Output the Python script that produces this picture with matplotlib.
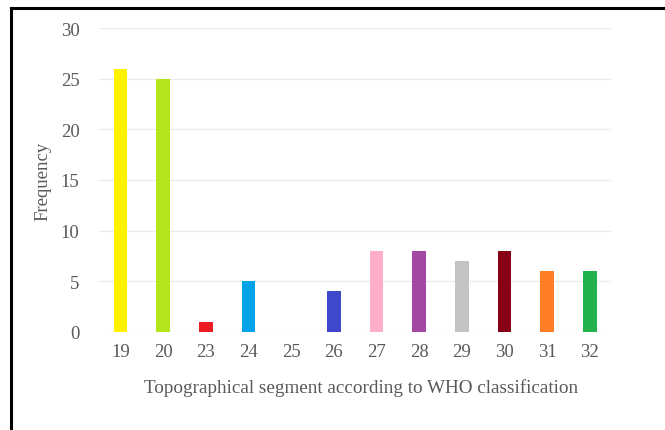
import matplotlib
matplotlib.use("Agg")
import matplotlib.pyplot as plt
from matplotlib.lines import Line2D

categories = ["19", "20", "23", "24", "25", "26", "27", "28", "29", "30", "31", "32"]
values = [26, 25, 1, 5, 0, 4, 8, 8, 7, 8, 6, 6]
colors = ["#FFF200", "#B5E61D", "#ED1C24", "#00A2E8", "#C3C3C3", "#3F48CC",
          "#FFAEC9", "#A349A4", "#C3C3C3", "#880015", "#FF7F27", "#22B14C"]
yticks = [0, 5, 10, 15, 20, 25, 30]

plt.rcParams['font.family'] = ['Liberation Serif', 'DejaVu Serif']
text_color = "#595959"

fig = plt.figure(figsize=(6.65, 4.31), dpi=100)
ax = fig.add_axes([0.149, 0.2274, 0.77, 0.7053])

x = list(range(len(categories)))
ax.bar(x, values, width=0.32, color=colors, zorder=3)
ax.set_xlim(-0.5, len(categories) - 0.5)
ax.set_ylim(0, 30)
ax.set_yticks(yticks)
ax.set_xticks(x)
ax.set_xticklabels(categories)
ax.yaxis.grid(True, color="#EBEBEB", linewidth=1.0, zorder=0)
for s in ax.spines.values():
    s.set_visible(False)
ax.tick_params(axis='both', length=0, labelsize=13.5, colors=text_color, pad=14)
ax.tick_params(axis='x', pad=8)
ax.set_ylabel("Frequency", fontsize=13.5, color=text_color, labelpad=7)
ax.set_xlabel("Topographical segment according to WHO classification", fontsize=13.8,
              color=text_color, labelpad=13)
ax.xaxis.label.set_x(0.512)

# figure border (left and top)
fig.add_artist(Line2D([10.5/665, 10.5/665], [0, 1 - 8.5/431], transform=fig.transFigure,
                      color="black", linewidth=2.2))
fig.add_artist(Line2D([10.5/665, 1], [1 - 8.5/431, 1 - 8.5/431], transform=fig.transFigure,
                      color="black", linewidth=2.2))

fig.savefig("out.png", dpi=100)
